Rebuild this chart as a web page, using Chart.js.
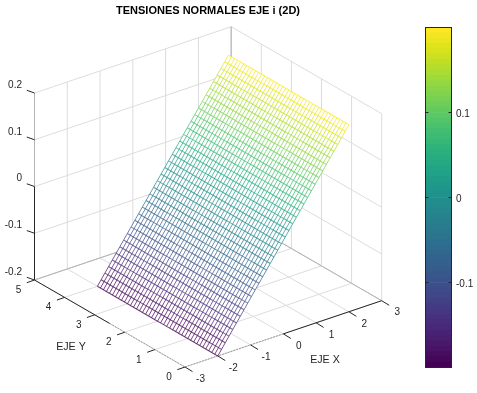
<!DOCTYPE html>
<html><head><meta charset="utf-8">
<style>html,body{margin:0;padding:0;background:#fff}#a{position:absolute;left:0;top:0}#b{position:absolute;left:416px;top:0}</style>
<script src="https://cdn.jsdelivr.net/npm/chart.js@4"></script></head>
<body>
<canvas id="a" width="416" height="393" style="width:416px;height:393px"></canvas>
<canvas id="b" width="61" height="393" style="width:61px;height:393px"></canvas>
<script>
const titleText = "TENSIONES NORMALES EJE i (2D)";
const xLabel = "EJE X", yLabel = "EJE Y";
const xTicks = [-3,-2,-1,0,1,2,3];
const yTicks = [0,1,2,3,4,5];
const zTicks = [-0.2,-0.1,0,0.1,0.2];
const colorbarTicks = [-0.1,0,0.1];
const colorLimits = [-0.2,0.2];
const meshX = [-2,-1.886,-1.771,-1.657,-1.543,-1.429,-1.314,-1.2,-1.086,-0.971,-0.857,-0.743,-0.629,-0.514,-0.4,-0.286,-0.171,-0.057,0.057,0.171,0.286,0.4,0.514,0.629,0.743,0.857,0.971,1.086,1.2,1.314,1.429,1.543,1.657,1.771,1.886,2];
const meshY = [0,0.1,0.2,0.3,0.4,0.5,0.6,0.7,0.8,0.9,1,1.1,1.2,1.3,1.4,1.5,1.6,1.7,1.8,1.9,2,2.1,2.2,2.3,2.4,2.5,2.6,2.7,2.8,2.9,3,3.1,3.2,3.3,3.4,3.5,3.6,3.7,3.8,3.9,4];
const meshZ = [-0.2,-0.1886,-0.1771,-0.1657,-0.1543,-0.1429,-0.1314,-0.12,-0.1086,-0.0971,-0.0857,-0.0743,-0.0629,-0.0514,-0.04,-0.0286,-0.0171,-0.0057,0.0057,0.0171,0.0286,0.04,0.0514,0.0629,0.0743,0.0857,0.0971,0.1086,0.12,0.1314,0.1429,0.1543,0.1657,0.1771,0.1886,0.2];
const viridisStops = ["#440154","#481567","#482677","#453781","#404788","#39568c","#33638d","#2d708e","#287d8e","#238a8d","#1f968b","#20a387","#29af7f","#3cbb75","#55c667","#73d055","#95d840","#b8de29","#dce319","#fde725"];
const LEVELS = 64;
const FONT = "'Liberation Sans', Arial, sans-serif";
const INK = "#262626", GRID = "#dcdcdc", EDGE = "#b4b4b4";

// view of the 3-D box as seen on the page
function project(x,y,z){
  return {x:185+(x+3)*32.78-y*30.1, y:367-(x+3)*11.05-y*17.4-(z+0.2)*467.5};
}
function hex(c){return [1,3,5].map(i=>parseInt(c.substr(i,2),16));}
function levelRGB(k){
  const t=k/(LEVELS-1)*(viridisStops.length-1), i=Math.min(Math.floor(t),viridisStops.length-2), f=t-i;
  const a=hex(viridisStops[i]), b=hex(viridisStops[i+1]);
  return a.map((v,j)=>Math.round(v+(b[j]-v)*f)).join(",");
}
function levelColor(k){return "rgb("+levelRGB(k)+")";}
function zColor(z){
  const k=Math.min(LEVELS-1,Math.max(0,Math.floor((z-colorLimits[0])/(colorLimits[1]-colorLimits[0])*LEVELS)));
  return "rgba("+levelRGB(k)+",0.72)";
}
const xMin=xTicks[0],xMax=xTicks[xTicks.length-1],yMin=yTicks[0],yMax=yTicks[yTicks.length-1],zMin=zTicks[0],zMax=zTicks[zTicks.length-1];
const layers=[];
function line(pts,color,width,extra){
  layers.push(Object.assign({type:"line",data:pts.map(p=>project(p[0],p[1],p[2])),borderColor:color,borderWidth:width||1,pointRadius:0,fill:false,tension:0,clip:false,borderCapStyle:"butt"},extra||{}));
}
// walls and floor
xTicks.forEach(x=>{ line([[x,yMax,zMin],[x,yMax,zMax]],GRID); line([[x,yMin,zMin],[x,yMax,zMin]],GRID); });
yTicks.forEach(y=>{ line([[xMax,y,zMin],[xMax,y,zMax]],GRID); line([[xMin,y,zMin],[xMax,y,zMin]],GRID); });
zTicks.forEach(z=>{ line([[xMin,yMax,z],[xMax,yMax,z]],GRID); line([[xMax,yMin,z],[xMax,yMax,z]],GRID); });
line([[xMax,yMax,zMin],[xMax,yMax,zMax]],EDGE);
line([[xMin,yMax,zMin],[xMax,yMax,zMin]],EDGE);
line([[xMax,yMin,zMin],[xMax,yMax,zMin]],EDGE);
// axes
line([[xMin,yMax,zMin],[xMin,yMax,0]],INK);
line([[xMin,yMax,0],[xMin,yMax,zMax]],EDGE);
line([[xMin,yMax,zMin],[xMin,2.5,zMin]],INK);
line([[xMin,2.5,zMin],[xMin,yMin,zMin]],"#999999",1,{borderDash:[2,1]});
line([[0,yMin,zMin],[xMax,yMin,zMin]],INK);
line([[xMin,yMin,zMin],[0,yMin,zMin]],"#999999",1,{borderDash:[2,1]});
// surface: white backing, then mesh
const lastX=meshX.length-1,lastY=meshY.length-1;
line([[meshX[0],meshY[0],meshZ[0]],[meshX[lastX],meshY[0],meshZ[lastX]],[meshX[lastX],meshY[lastY],meshZ[lastX]],[meshX[0],meshY[lastY],meshZ[0]],[meshX[0],meshY[0],meshZ[0]]],"rgba(255,255,255,0)",0,{fill:"shape",backgroundColor:"#ffffff"});
meshY.forEach(y=>{
  line(meshX.map((x,i)=>[x,y,meshZ[i]]),zColor(meshZ[0]),1,{segment:{borderColor:c=>zColor(meshZ[c.p0DataIndex])}});
});
meshX.forEach((x,i)=>{
  line(meshY.map(y=>[x,y,meshZ[i]]),zColor(meshZ[i]),1.1);
});
// tick marks
zTicks.forEach(z=>{const p=project(xMin,yMax,z);layers.push({type:"line",data:[p,{x:p.x-7.7,y:p.y-2.7}],borderColor:INK,borderWidth:1,pointRadius:0,clip:false});});
yTicks.forEach(y=>{const p=project(xMin,y,zMin);layers.push({type:"line",data:[p,{x:p.x-7.7,y:p.y+2.7}],borderColor:INK,borderWidth:1,pointRadius:0,clip:false});});
xTicks.forEach(x=>{const p=project(x,yMin,zMin);layers.push({type:"line",data:[p,{x:p.x+7.5,y:p.y+4.6}],borderColor:INK,borderWidth:1,pointRadius:0,clip:false});});
layers.reverse();

const labels3d={id:"labels3d",afterDatasetsDraw(chart){
  const c=chart.ctx,sx=chart.scales.x,sy=chart.scales.y;
  const put=(t,px,py,al)=>{c.textAlign=al;c.fillText(t,sx.getPixelForValue(px),sy.getPixelForValue(py));};
  c.save();c.fillStyle=INK;c.textBaseline="middle";c.font="10px "+FONT;
  zTicks.forEach(z=>{const p=project(xMin,yMax,z);put(String(z),p.x-12.5,p.y-8,"right");});
  yTicks.forEach(y=>{const p=project(xMin,y,zMin);put(String(y),p.x-16,p.y+10.2,"center");});
  xTicks.forEach(x=>{const p=project(x,yMin,zMin);put(String(x),p.x+15.5,p.y+12,"center");});
  c.font="10.7px "+FONT;
  put(yLabel,71,347,"center");put(xLabel,325,360,"center");
  c.restore();
}};

new Chart(document.getElementById("a"),{
  type:"scatter",
  data:{datasets:layers},
  options:{responsive:false,animation:false,events:[],layout:{padding:0},
    plugins:{legend:{display:false},tooltip:{enabled:false},
      title:{display:true,text:titleText,color:"#000",font:{family:FONT,size:11,weight:"bold",lineHeight:1},padding:{top:5,bottom:4}}},
    scales:{x:{type:"linear",display:false,min:0,max:416},y:{type:"linear",display:false,min:20,max:393,reverse:true}}},
  plugins:[labels3d]
});

const barSets=[];
for(let k=0;k<LEVELS;k++){
  const lo=colorLimits[0]+(colorLimits[1]-colorLimits[0])*k/LEVELS, hi=colorLimits[0]+(colorLimits[1]-colorLimits[0])*(k+1)/LEVELS;
  barSets.push({data:[[lo,hi]],backgroundColor:levelColor(k),borderWidth:0,barPercentage:1,categoryPercentage:1,grouped:false});
}
const frame={id:"frame",afterDatasetsDraw(chart){
  const c=chart.ctx,a=chart.chartArea,s=chart.scales.y;
  c.save();c.strokeStyle=INK;c.lineWidth=1;
  c.strokeRect(a.left,a.top,a.right-a.left,a.bottom-a.top);
  colorbarTicks.forEach(v=>{const y=Math.round(s.getPixelForValue(v)-0.5)+0.5;
    c.beginPath();c.moveTo(a.left,y);c.lineTo(a.left+3,y);c.moveTo(a.right,y);c.lineTo(a.right-3,y);c.stroke();});
  c.fillStyle=INK;c.font="10px "+FONT;c.textAlign="left";c.textBaseline="middle";
  colorbarTicks.forEach(v=>c.fillText(String(v),a.right+4.5,s.getPixelForValue(v)+1.5));
  c.restore();
}};
new Chart(document.getElementById("b"),{
  type:"bar",
  data:{labels:[""],datasets:barSets},
  options:{responsive:false,animation:false,events:[],
    layout:{padding:{left:9.5,top:27.5,bottom:25.5,right:0}},
    plugins:{legend:{display:false},tooltip:{enabled:false}},
    scales:{x:{display:false},
      y:{position:"right",min:colorLimits[0],max:colorLimits[1],
        grid:{display:false,drawTicks:false},border:{display:false},
        afterBuildTicks(a){a.ticks=colorbarTicks.map(v=>({value:v}));},
        afterFit(a){a.width=25.5;},
        ticks:{display:false}}}},
  plugins:[frame]
});
</script></body></html>
